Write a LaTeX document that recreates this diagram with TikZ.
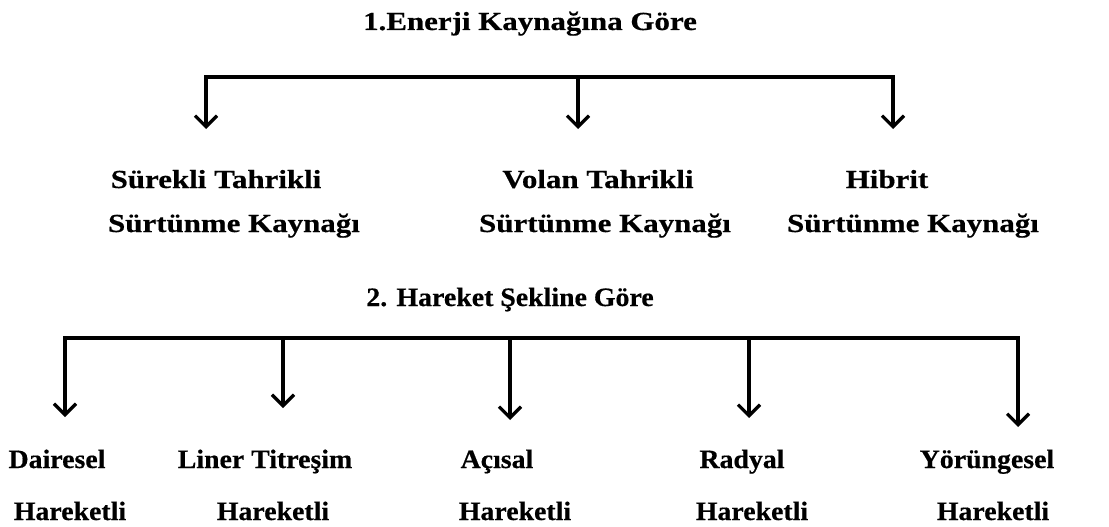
\documentclass[tikz,border=0pt]{standalone}
\usepackage{fontspec}
\usepackage{tikz}
\usetikzlibrary{arrows.meta}
\newfontfamily\ustfont[FakeStretch=1.19,BoldFeatures={FakeBold=0.5}]{Liberation Serif}
\newfontfamily\altfont[FakeStretch=1.05,BoldFeatures={FakeBold=0.5}]{Liberation Serif}

\begin{document}
\begin{tikzpicture}[x=1pt,y=-1pt]
	\useasboundingbox (0,0) rectangle (1109,527);
		\begin{scope}[every node/.style={anchor=base,inner sep=0pt,font=\ustfont\bfseries\fontsize{26}{30}\selectfont}]
    \node (t1) at (530,30) {1.Enerji Kaynağına Göre};
    \node (s1a) at (216,188) {Sürekli Tahrikli};
    \node (s1b) at (234,232) {Sürtünme Kaynağı};
    \node (s2a) at (598,188) {Volan Tahrikli};
    \node (s2b) at (605,232) {Sürtünme Kaynağı};
    \node (s3a) at (887,188) {Hibrit};
    \node (s3b) at (913,232) {Sürtünme Kaynağı};
	\end{scope}
		\begin{scope}[every node/.style={anchor=base,inner sep=0pt,font=\altfont\bfseries\fontsize{26.5}{30}\selectfont}]
    \node (t2) at (510,306) {2. Hareket Şekline Göre};
    \node (h1a) at (57,468) {Dairesel};
    \node (h1b) at (70,520) {Hareketli};
    \node (h2a) at (265,468) {Liner Titreşim};
    \node (h2b) at (273,520) {Hareketli};
    \node (h3a) at (497,468) {Açısal};
    \node (h3b) at (515,520) {Hareketli};
    \node (h4a) at (742,468) {Radyal};
    \node (h4b) at (752,520) {Hareketli};
    \node (h5a) at (987,468) {Yörüngesel};
    \node (h5b) at (993,520) {Hareketli};
	\end{scope}

    % branch points and arrow tips
    \coordinate (b1) at (206,77);
    \coordinate (b2) at (578,77);
    \coordinate (b3) at (893,77);
    \coordinate (a1) at (206,129);
    \coordinate (a2) at (578,129);
    \coordinate (a3) at (893,129);
    \coordinate (c1) at (65,338);
    \coordinate (c2) at (283,338);
    \coordinate (c3) at (510,338);
    \coordinate (c4) at (749,338);
    \coordinate (c5) at (1018,338);
    \coordinate (d1) at (65,417);
    \coordinate (d2) at (283,408);
    \coordinate (d3) at (510,420);
    \coordinate (d4) at (749,418);
    \coordinate (d5) at (1018,427);

	\begin{scope}[>={Straight Barb[length=11pt,width=22pt]},
              pfeil/.style={draw=black,line width=3.2pt}]
    \draw [pfeil,<->] (a1) -- (b1) -- (b3) -- (a3);
    \draw [pfeil,->] (b2) -- (a2);
    \draw [pfeil,<->] (d1) -- (c1) -- (c5) -- (d5);
		\draw [pfeil,->] (c2) -- (d2);
		\draw [pfeil,->] (c3) -- (d3);
		\draw [pfeil,->] (c4) -- (d4);
\end{scope}
\end{tikzpicture}
\end{document}
